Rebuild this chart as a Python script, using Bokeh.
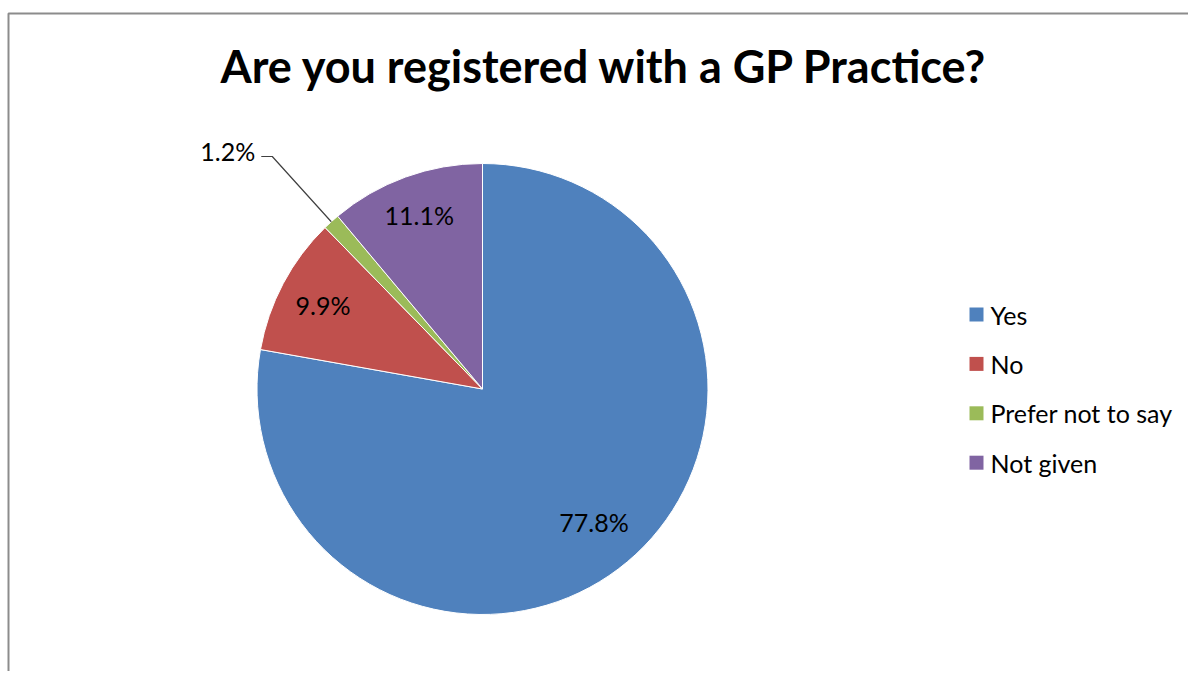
import numpy as np
from bokeh.plotting import figure
from bokeh.models import Range1d, ColumnDataSource
from bokeh.core.properties import value
from bokeh.embed import file_html
from bokeh.resources import INLINE

# ---- data ----
title = "Are you registered with a GP Practice?"
categories = ["Yes", "No", "Prefer not to say", "Not given"]
percent = [77.8, 9.9, 1.2, 11.1]
colors = ["#4F81BD", "#C0504D", "#9BBB59", "#8064A2"]
labels = ["77.8%", "9.9%", "1.2%", "11.1%"]

# ---- layout (page pixels, y up) ----
W, H = 1188, 671
def px(x_img):
    return x_img
def py(y_img):
    return H - y_img

cx, cy, R = px(482), py(388.5), 225.5
FONT = "Lato"

p = figure(width=W, height=H, output_backend="svg", toolbar_location=None,
           x_range=Range1d(0, W), y_range=Range1d(0, H), min_border=0,
           tools="")
p.axis.visible = False
p.grid.visible = False
p.outline_line_color = None
p.background_fill_color = "white"
p.border_fill_color = "white"

# chart border (left and top visible, like the cropped reference)
p.line(x=[px(8), px(8), W + 5], y=[-5, py(13), py(13)], line_color="#8C8C8C", line_width=2)

# ---- pie ----
frac = np.array(percent) / sum(percent)
cum = np.concatenate([[0], np.cumsum(frac)])
start_cw = cum[:-1] * 2 * np.pi
end_cw = cum[1:] * 2 * np.pi
start = np.pi / 2 - end_cw
end = np.pi / 2 - start_cw
src = ColumnDataSource(dict(start=start, end=end, color=colors, cat=categories))
p.wedge(x=cx, y=cy, radius=R, start_angle="start", end_angle="end",
        fill_color="color", line_color="white", line_width=1, source=src,
        direction="anticlock")

mid = np.pi / 2 - (start_cw + end_cw) / 2
inside = [0, 1, 3]
rf = {0: 0.77, 1: 0.80, 3: 0.82}
lx = [cx + rf[i] * R * np.cos(mid[i]) for i in inside]
ly = [cy + rf[i] * R * np.sin(mid[i]) for i in inside]
p.text(x=lx, y=ly, text=[labels[i] for i in inside], text_font=value(FONT),
       text_font_size="25px", text_align="center", text_baseline="middle",
       text_color="#000000")

# outside label for the small slice with leader line
i = 2
ex, ey = cx + R * np.cos(mid[i]), cy + R * np.sin(mid[i])
bx, by = cx + 1.39 * R * np.cos(mid[i]), cy + 1.39 * R * np.sin(mid[i])
p.line(x=[ex, bx, bx - 11], y=[ey, by, by], line_color="#404040", line_width=1.2)
p.text(x=[bx - 17], y=[by + 6], text=[labels[i]], text_font=value(FONT),
       text_font_size="25px", text_align="right", text_baseline="middle",
       text_color="#000000")

# ---- title ----
p.text(x=[px(604)], y=[py(65)], text=[title], text_font=value(FONT),
       text_font_size="45px", text_font_style="bold", text_align="center",
       text_baseline="middle", text_color="#000000")

# ---- legend ----
n = len(categories)
leg_y = [py(314 + 49.4 * k) for k in range(n)]
p.rect(x=[px(976)] * n, y=leg_y, width=14, height=14, fill_color=colors,
       line_color=None)
p.text(x=[px(990)] * n, y=leg_y, text=categories, text_font=value(FONT),
       text_font_size="25px", text_align="left", text_baseline="middle",
       text_color="#000000")

open("out.html", "w").write(file_html(p, INLINE))
